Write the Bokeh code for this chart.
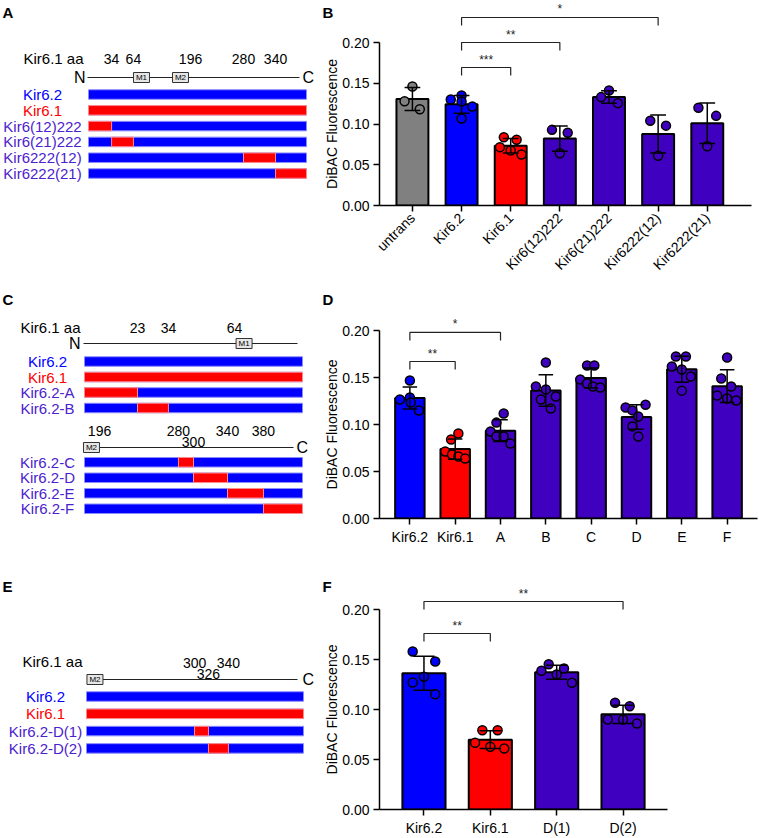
import numpy as np
from bokeh.plotting import figure
from bokeh.layouts import column, row
from bokeh.models import Range1d, FixedTicker, PrintfTickFormatter
from bokeh.core.properties import value
from bokeh.embed import file_html
from bokeh.resources import INLINE

FONT = "Liberation Sans"
BLUE = "#0000FF"
RED = "#FF0000"
PURPLE = "#3F00BF"
GRAY = "#808080"
TEXT_PURPLE = "#4A22CE"
BLUE_EDGE = "#8C8CFF"
RED_EDGE = "#FF8C8C"

LEFT_W = 338
RIGHT_W = 759 - LEFT_W
FRAME_LEFT = 379 - LEFT_W
Y_TITLE = "DiBAC Fluorescence"

# ---------------- schematic data ----------------
# residue -> drawn position along the schematic bar (0 = N end, 100 = C end)
A_constructs = ["Kir6.2", "Kir6.1", "Kir6(12)222", "Kir6(21)222", "Kir6222(12)", "Kir6222(21)"]
A_swaps = [None, ("N", "C"), ("N", 34), (34, 64), (280, 340), (340, "C")]
A_residues = [34, 64, 196, 280, 340]
A_map = {"N": 0, 34: 10.6, 64: 20.6, 196: 46.8, 280: 71.1, 340: 85.8, "C": 100}
A_motifs = [("M1", 24.3), ("M2", 42.2)]

C_constructs_n = ["Kir6.2", "Kir6.1", "Kir6.2-A", "Kir6.2-B"]
C_swaps_n = [None, ("N", "C"), ("N", 23), (23, 34)]
C_constructs_c = ["Kir6.2-C", "Kir6.2-D", "Kir6.2-E", "Kir6.2-F"]
C_swaps_c = [(280, 300), (300, 340), (340, 380), (380, "C")]
C_residues_n = [23, 34, 64]
C_residues_c = [196, 280, 340, 380]
C_residues_c_low = [300]
C_map = {"N": 0, 23: 24.3, 34: 38.5, 64: 68.8, 196: 6.9, 280: 43.1,
         300: 50.0, 340: 65.6, 380: 82.1, "C": 100}
C_motifs_n = [("M1", 73.2)]
C_motifs_c = [("M2", 3.2)]

E_constructs = ["Kir6.2", "Kir6.1", "Kir6.2-D(1)", "Kir6.2-D(2)"]
E_swaps = [None, ("N", "C"), (300, 326), (326, 340)]
E_residues = [300, 340]
E_residues_low = [326]
E_map = {"N": 0, 300: 49.8, 326: 56.2, 340: 65.4, "C": 100}
E_motifs = [("M2", 3.9)]

# ---------------- DiBAC fluorescence data ----------------
B_groups = ["untrans", "Kir6.2", "Kir6.1", "Kir6(12)222", "Kir6(21)222",
            "Kir6222(12)", "Kir6222(21)"]
B_values = [
    [0.146, 0.128, 0.118],
    [0.130, 0.135, 0.1276, 0.1215, 0.1067],
    [0.0838, 0.0806, 0.0716, 0.0675, 0.0626],
    [0.0928, 0.0892, 0.0642],
    [0.141, 0.133, 0.1256],
    [0.104, 0.098, 0.061],
    [0.120, 0.110, 0.0728],
]
B_jitter = [
    [0, -0.16, 0.15],
    [-0.22, 0, 0, 0.22, 0],
    [-0.14, 0.12, -0.22, 0, 0.22],
    [-0.16, 0.16, 0],
    [0, -0.16, 0.18],
    [-0.16, 0.16, 0],
    [-0.18, 0.18, 0],
]
B_colors = [GRAY, BLUE, RED, PURPLE, PURPLE, PURPLE, PURPLE]
B_brackets = [(1, 2, 0.1693, "***"), (1, 3, 0.200, "**"), (1, 5, 0.2307, "*")]

D_groups = ["Kir6.2", "Kir6.1", "A", "B", "C", "D", "E", "F"]
D_values = [
    [0.1468, 0.1266, 0.1287, 0.1234, 0.1149],
    [0.0904, 0.084, 0.0713, 0.068, 0.066, 0.0638],
    [0.1117, 0.102, 0.0926, 0.0873, 0.0873, 0.0798],
    [0.166, 0.1405, 0.1373, 0.1298, 0.1266, 0.117],
    [0.1628, 0.1628, 0.148, 0.1436, 0.1404, 0.1394],
    [0.118, 0.121, 0.115, 0.1085, 0.098, 0.0873],
    [0.1724, 0.1724, 0.1617, 0.1585, 0.151, 0.136],
    [0.1713, 0.149, 0.1404, 0.1309, 0.1277, 0.1255],
]
D_jitter = [
    [0, -0.22, 0, 0.02, 0.2],
    [0.07, -0.09, -0.22, -0.07, 0.07, 0.22],
    [0.07, -0.09, -0.22, -0.09, 0.07, 0.22],
    [0, -0.22, 0, 0.22, -0.11, 0.11],
    [-0.09, 0.07, -0.24, -0.09, 0.04, 0.2],
    [-0.24, 0.2, -0.09, 0.04, -0.09, 0.04],
    [-0.13, 0.09, -0.22, 0, 0.2, 0],
    [0, -0.13, 0.09, -0.22, 0, 0.2],
]
D_colors = [BLUE, RED] + [PURPLE] * 6
D_brackets = [(0, 1, 0.167, "**"), (0, 2, 0.198, "*")]

F_groups = ["Kir6.2", "Kir6.1", "D(1)", "D(2)"]
F_values = [
    [0.158, 0.148, 0.1327, 0.127, 0.1153],
    [0.0793, 0.0793, 0.0667, 0.0627, 0.061],
    [0.1453, 0.1387, 0.141, 0.135, 0.1267],
    [0.1067, 0.1033, 0.090, 0.090, 0.086],
]
F_jitter = [
    [-0.17, 0.17, 0, -0.17, 0.17],
    [-0.12, 0.11, -0.23, 0, 0.21],
    [-0.12, -0.23, 0.11, 0, 0.23],
    [-0.12, 0.1, -0.23, 0, 0.21],
]
F_colors = [BLUE, RED, PURPLE, PURPLE]
F_brackets = [(0, 1, 0.176, "**"), (0, 3, 0.208, "**")]


def name_color(name):
    if name == "Kir6.2":
        return BLUE
    if name == "Kir6.1":
        return RED
    return TEXT_PURPLE


class Schematic:
    """Left-hand panel: x runs along the construct bar, y counts construct rows."""

    def __init__(self, height, bar_px, row0_px, row_px):
        self.left, right = bar_px
        self.k = (right - self.left) / 100.0
        self.row0 = row0_px
        self.row_px = row_px
        self.p = figure(width=LEFT_W, height=height,
                        x_range=Range1d(-self.left / self.k, (LEFT_W - self.left) / self.k),
                        y_range=Range1d((height - row0_px) / row_px, -row0_px / row_px),
                        x_axis_location=None, y_axis_location=None, min_border=0,
                        frame_align=False, toolbar_location=None, output_backend="svg")
        self.p.grid.visible = False
        self.p.outline_line_color = None
        self.height = height

    def X(self, px):
        return (px - self.left) / self.k

    def Y(self, px):
        return (px - self.row0) / self.row_px

    def text(self, x, y, s, size=15, align="center", color="black", baseline="middle",
             style="normal", angle=0.0):
        self.p.text(x=[x], y=[y], text=[s], text_font=value(FONT),
                    text_font_size=f"{size}px", text_align=align,
                    text_baseline=baseline, text_color=color,
                    text_font_style=style, angle=angle)

    def letter(self, s, x_px, top_px):
        self.text(self.X(x_px), self.Y(top_px), s, size=15, align="left",
                  baseline="top", style="bold")

    def y_title(self, x_px, center_px):
        # vertical title belonging to the bar chart on the right of this panel
        self.text(self.X(x_px), self.Y(center_px), Y_TITLE, size=14, angle=np.pi / 2)

    def header(self, y_px, x0_px, x1_px, motifs, n_px=None, c_px=None):
        y = self.Y(y_px)
        self.p.segment(x0=[self.X(x0_px)], y0=[y], x1=[self.X(x1_px)], y1=[y],
                       line_color="#222222", line_width=1.2)
        for name, pos in motifs:
            self.p.rect(x=[pos], y=[y], width=16 / self.k, height=10 / self.row_px,
                        fill_color="#E6E6E6", line_color="#333333", line_width=1)
            self.text(pos, y, name, size=8)
        if n_px is not None:
            self.text(self.X(n_px), y, "N", size=16, align="right")
        if c_px is not None:
            self.text(self.X(c_px), y, "C", size=16, align="left")

    def residues(self, y_px, residues, pos_map):
        for r in residues:
            self.text(pos_map[r], self.Y(y_px), str(r), size=14)

    def constructs(self, names, swaps, rows, pos_map, label_px):
        h = 9.5 / self.row_px
        for name, swap, r in zip(names, swaps, rows):
            self.p.hbar(y=[r], left=[0], right=[100], height=h, fill_color=BLUE,
                        line_color=BLUE_EDGE, line_width=1)
            if swap is not None:
                self.p.hbar(y=[r], left=[pos_map[swap[0]]], right=[pos_map[swap[1]]],
                            height=h, fill_color=RED, line_color=RED_EDGE, line_width=1)
            self.text(self.X(label_px), r, name, size=15, color=name_color(name))


def bar_chart(height, groups, values, jitter, colors, brackets, frame_top,
              frame_bottom, right_border, px_per_020, x_right_pad, rotate=False):
    n = len(groups)
    frame_h = height - frame_top - frame_bottom
    unit = 0.20 / px_per_020
    y_end = frame_h * unit
    p = figure(width=RIGHT_W, height=height,
               x_range=Range1d(-0.67, n - 1 + x_right_pad), y_range=Range1d(0, y_end),
               min_border_left=FRAME_LEFT, min_border_right=right_border,
               min_border_top=frame_top, min_border_bottom=frame_bottom,
               frame_align=False, toolbar_location=None, output_backend="svg")
    p.grid.visible = False
    p.outline_line_color = None

    means = np.array([np.mean(v) for v in values])
    sds = np.array([np.std(v, ddof=1) for v in values])
    x = np.arange(n, dtype=float)

    p.vbar(x=x, top=means, bottom=0, width=0.65, fill_color=colors,
           line_color="black", line_width=2)

    xs, ys, fc = [], [], []
    for i, (vals, jit) in enumerate(zip(values, jitter)):
        for v, dx in zip(vals, jit):
            xs.append(i + dx)
            ys.append(v)
            fc.append(colors[i])
    p.scatter(xs, ys, marker="circle", size=9, fill_color=fc, line_color="black",
              line_width=1.5)

    lo, hi = means - sds, means + sds
    cap = 0.16
    p.segment(x0=x, y0=lo, x1=x, y1=hi, line_color="black", line_width=1.5)
    p.segment(x0=x - cap, y0=hi, x1=x + cap, y1=hi, line_color="black", line_width=1.5)
    p.segment(x0=x - cap, y0=lo, x1=x + cap, y1=lo, line_color="black", line_width=1.5)

    drop = 8 * unit
    for a, b, yb, stars in brackets:
        p.line([a, a, b, b], [yb - drop, yb, yb, yb - drop], line_color="#222222",
               line_width=1.2)
        p.text(x=[(a + b) / 2], y=[yb + 1 * unit], text=[stars], text_font=value(FONT),
               text_font_size="12px", text_align="center", text_baseline="bottom",
               text_color="#222222")

    for ax in (p.xaxis[0], p.yaxis[0]):
        ax.axis_line_width = 1.5
        ax.axis_line_color = "black"
        ax.major_tick_line_width = 1.5
        ax.major_tick_line_color = "black"
        ax.major_tick_out = 6
        ax.major_tick_in = 0
        ax.minor_tick_line_color = None
        ax.major_label_text_font = FONT
        ax.major_label_text_font_size = "14px"
        ax.major_label_text_color = "black"
        ax.major_label_standoff = 4

    yax = p.yaxis[0]
    yax.ticker = FixedTicker(ticks=[0, 0.05, 0.10, 0.15, 0.20])
    yax.formatter = PrintfTickFormatter(format="%.2f")
    yax.bounds = (0, 0.20)

    xax = p.xaxis[0]
    xax.ticker = FixedTicker(ticks=list(range(n)))
    xax.major_label_overrides = {i: g for i, g in enumerate(groups)}
    if rotate:
        xax.major_label_orientation = np.pi / 4
    return p


# ---------------- row 1 ----------------
sA = Schematic(282, (88, 306), 94, 15.8)
sA.letter("A", 2, 3)
sA.letter("B", 322, 3)
sA.y_title(331, 123.5)
sA.text(sA.X(23), sA.Y(58), "Kir6.1 aa", size=15, align="left")
sA.residues(58, A_residues, A_map)
sA.header(77, 87, 299, A_motifs, n_px=85, c_px=302)
sA.constructs(A_constructs, A_swaps, list(range(6)), A_map, 42)

pB = bar_chart(282, B_groups, B_values, B_jitter, B_colors, B_brackets,
               frame_top=0, frame_bottom=77, right_border=8, px_per_020=163,
               x_right_pad=0.9, rotate=True)

# ---------------- row 2 ----------------
sC = Schematic(290, (84, 302), 79, 15.5)
sC.letter("C", 2, 8)
sC.letter("D", 322, 8)
sC.y_title(331, 142)
sC.text(sC.X(20), sC.Y(45), "Kir6.1 aa", size=15, align="left")
sC.residues(45, C_residues_n, C_map)
sC.header(61, 83, 297, C_motifs_n, n_px=80)
sC.constructs(C_constructs_n, C_swaps_n, [0, 1, 2, 3], C_map, 47)
sC.residues(148, C_residues_c, C_map)
sC.residues(159, C_residues_c_low, C_map)
sC.header(165, 99, 293, C_motifs_c, c_px=296)
sC.constructs(C_constructs_c, C_swaps_c, [6.5, 7.5, 8.5, 9.5], C_map, 47)

pD = bar_chart(290, D_groups, D_values, D_jitter, D_colors, D_brackets,
               frame_top=18, frame_bottom=54, right_border=2, px_per_020=188,
               x_right_pad=0.67)

# ---------------- row 3 ----------------
sE = Schematic(266, (86, 303), 124, 17.3)
sE.letter("E", 2, 5)
sE.letter("F", 322, 5)
sE.y_title(331, 137)
sE.text(sE.X(22), sE.Y(89), "Kir6.1 aa", size=15, align="left")
sE.residues(90, E_residues, E_map)
sE.residues(101, E_residues_low, E_map)
sE.header(107, 102, 297, E_motifs, c_px=302)
sE.constructs(E_constructs, E_swaps, [0, 1, 2, 3], E_map, 45)

pF = bar_chart(266, F_groups, F_values, F_jitter, F_colors, F_brackets,
               frame_top=13, frame_bottom=29, right_border=92, px_per_020=200,
               x_right_pad=0.67)

layout = column(row(sA.p, pB), row(sC.p, pD), row(sE.p, pF))
open("out.html", "w").write(file_html(layout, INLINE))
